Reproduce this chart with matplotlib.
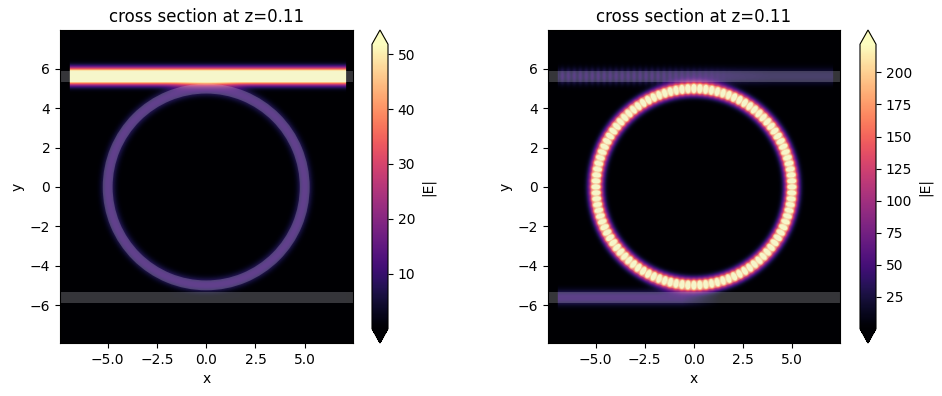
import matplotlib
matplotlib.use('Agg')
import matplotlib.pyplot as plt
import numpy as np
from matplotlib.patches import Annulus, Rectangle

# geometry of the device, um
ring_radius = 5.0
core_width = 0.5
gap_y = 5.64
src_left = -6.93
src_right = 7.1
x_lim = (-7.42, 7.45)
y_lim = (-7.93, 7.98)

# |E| levels
off_top_amp = 74.0
off_ring_amp = 10.5
off_bottom_amp = 0.4
on_ring_base = 195.0
on_ring_dot = 175.0
on_top_amp = 36.0
on_top_dot = 16.0
on_bottom_amp = 42.0
ring_lobes = 52
off_vmax = 51.8
on_vmax = 222.0

off_ticks = [10, 20, 30, 40, 50]
on_ticks = [25, 50, 75, 100, 125, 150, 175, 200]

xs = np.arange(-7.42, 7.46, 0.05)
ys = np.arange(-7.93, 7.99, 0.05)
X, Y = np.meshgrid(xs, ys)
R = np.hypot(X, Y)
T = np.arctan2(Y, X)


def mode(d, w):
    return np.exp(-(np.abs(d) / w) ** 2.4)


def fade(x, start, stop):
    return np.clip((stop - x) / (stop - start), 0, 1)


inside = (X > src_left) & (X < src_right)
ring = mode(R - ring_radius, 0.37)
top = mode(Y - gap_y, 0.42) * inside
bottom = mode(Y + gap_y, 0.40) * inside

left_field = off_top_amp * top + off_ring_amp * ring + off_bottom_amp * bottom

dots = np.abs(np.cos(ring_lobes * T)) ** 2 * np.exp(-((R - ring_radius) / 0.2) ** 2)
wg_dots = np.abs(np.cos(2 * np.pi * X / 0.61)) ** 2 * fade(X, -2.0, 2.0)
right_field = (on_ring_base * ring + on_ring_dot * dots) \
    + (on_top_amp * (0.75 + 0.25 * fade(np.abs(X - 1), 0, 3)) + on_top_dot * wg_dots) * top \
    + on_bottom_amp * bottom * fade(X, -0.6, 1.4)

fig = plt.figure(figsize=(9.42, 3.96), dpi=100)
W, H = 942.0, 396.0


def add(px_left, px_top, px_right, px_bottom):
    return fig.add_axes([px_left / W, 1 - px_bottom / H, (px_right - px_left) / W, (px_bottom - px_top) / H])


def panel(ax, cax, field, vmax, ticks):
    im = ax.imshow(field, origin='lower', extent=[x_lim[0], x_lim[1], y_lim[0], y_lim[1]],
                   cmap='magma', vmin=0, vmax=vmax, interpolation='bilinear', aspect='auto')
    ax.add_patch(Annulus((0, 0), ring_radius + core_width / 2, core_width, color='#e6e6f0', alpha=0.23, lw=0))
    for yc in [gap_y, -gap_y]:
        ax.add_patch(Rectangle((x_lim[0], yc - core_width / 2 - 0.03), x_lim[1] - x_lim[0], core_width + 0.06,
                               color='#e6e6f0', alpha=0.23, lw=0))
    ax.set_xlim(x_lim)
    ax.set_ylim(y_lim)
    ax.set_xticks([-5, -2.5, 0, 2.5, 5])
    ax.set_yticks([-6, -4, -2, 0, 2, 4, 6])
    ax.set_xlabel('x')
    ax.set_ylabel('y')
    ax.set_title('cross section at z=0.11')
    cb = fig.colorbar(im, cax=cax, extend='both')
    cb.set_ticks(ticks)
    cb.set_label('|E|')


panel(add(60, 30, 353, 343), add(372, 30, 388, 343), left_field, off_vmax, off_ticks)
panel(add(548, 30, 840, 343), add(860, 30, 876, 343), right_field, on_vmax, on_ticks)

fig.savefig('out.png', dpi=100)
